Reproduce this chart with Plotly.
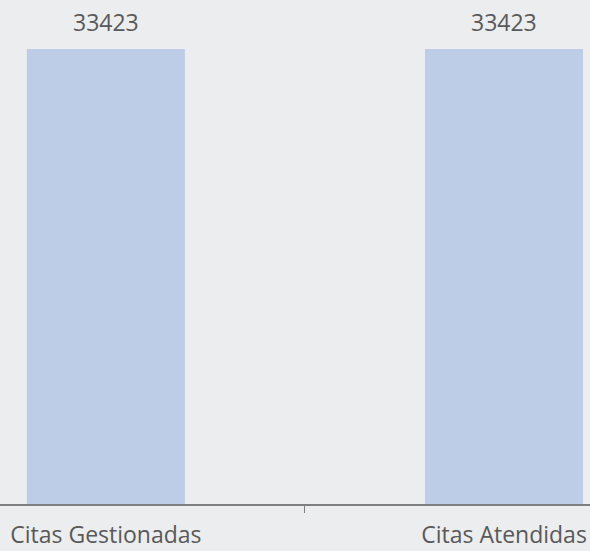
import plotly.graph_objects as go

categories = ["Citas Gestionadas", "Citas Atendidas"]
values = [33423, 33423]

bar_color = "#BDCCE7"
bg = "#ECEDEF"
text_color = "#595959"
font = "Open Sans"

fig = go.Figure(go.Bar(
    x=categories, y=values, marker_color=bar_color, width=0.397,
    marker_line_width=0, hoverinfo="skip",
))

for c, v in zip(categories, values):
    fig.add_annotation(x=c, y=v, text=str(v), showarrow=False, yanchor="bottom",
                       yshift=9, font=dict(family=font, size=23, color=text_color))

fig.update_layout(
    width=590, height=551,
    margin=dict(l=0, r=0, t=0, b=47),
    paper_bgcolor=bg, plot_bgcolor=bg,
    showlegend=False,
    xaxis=dict(
        range=[-0.266, 1.216], showgrid=False, zeroline=False, automargin=False,
        showline=True, linecolor="#7F7F7F", linewidth=1.5,
        tickson="boundaries", ticks="outside", ticklen=7, tickcolor="#7F7F7F",
        ticklabelstandoff=10,
        tickfont=dict(family=font, size=23, color=text_color),
    ),
    yaxis=dict(range=[0, 37022], visible=False, showgrid=False, zeroline=False,
               automargin=False),
)

fig.write_html(
    "out.html",
    config={"displayModeBar": False},
    post_script="document.body.style.margin='0';document.body.style.overflow='hidden';",
)
